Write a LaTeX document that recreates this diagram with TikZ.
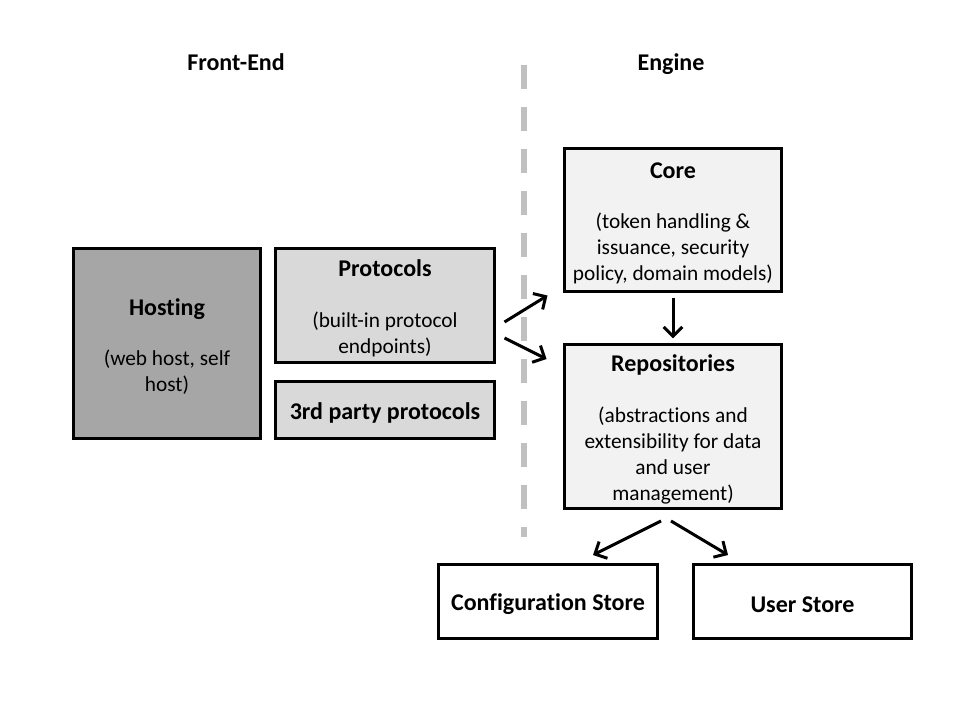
\documentclass[tikz,border=0pt]{standalone}
\usepackage{fontspec}
\setmainfont{Carlito}[Ligatures={NoCommon}]
\usepackage{tikz}
\usetikzlibrary{arrows.meta, positioning, calc}
\definecolor{hostgray}{HTML}{A6A6A6}
\definecolor{protogray}{HTML}{D9D9D9}
\definecolor{enginegray}{HTML}{F2F2F2}
\definecolor{divgray}{HTML}{C0C0C0}
\newcommand{\boxtitle}[1]{{\fontsize{18pt}{22pt}\selectfont\bfseries\rule{0pt}{17pt}#1}}

\begin{document}
\begin{tikzpicture}[x=0.75pt, y=-0.75pt,
    box/.style={draw, line width=2.25pt, align=center, inner sep=0pt, font=\fontsize{16pt}{19.5pt}\selectfont},
    link/.style={line width=2.25pt, -{Straight Barb[length=7pt, width=14pt]}},
    heading/.style={anchor=base, font=\fontsize{18pt}{22pt}\selectfont\bfseries}]
    \useasboundingbox (0,0) rectangle (960,720);
    % Headings and divider
    \node[heading] (fe) at (236,70.5) {Front-End};
    \node[heading] (en) at (671,70.5) {Engine};
    \draw[divgray, line width=4.5pt, dash pattern=on 18pt off 13.5pt] (524,65) -- (524,537);

    % Front-end boxes
    \node[box, fill=hostgray, minimum width=140.25pt, minimum height=142.5pt] (host) at (167,343.5) {\boxtitle{Hosting}\\[18.5pt](web host, self\\host)};
    \node[box, fill=protogray, minimum width=164.25pt, minimum height=85.5pt] (proto) at (385,305.5) {\boxtitle{Protocols}\\[18.5pt](built-in protocol\\endpoints)};
    \node[box, fill=protogray, minimum width=164.25pt, minimum height=42.75pt] (third) at (385,410) {\boxtitle{3rd party protocols}};

    % Engine boxes
    \node[box, fill=enginegray, minimum width=162.75pt, minimum height=107.25pt] (core) at (673,220) {\boxtitle{Core}\\[18.5pt](token handling \&\\issuance, security\\policy, domain models)};
    \node[box, fill=enginegray, minimum width=162.75pt, minimum height=123pt] (repo) at (673,426.5) {\boxtitle{Repositories}\\[18.5pt](abstractions and\\extensibility for data\\and user\\management)};
    \node[box, minimum width=164.25pt, minimum height=55.5pt] (conf) at (548,601.5) {\boxtitle{Configuration Store}};
    \node[box, minimum width=163.5pt, minimum height=55.5pt] (user) at (802.5,601.5) {\boxtitle{User Store}};

    % Arrows
    \draw[link] ([shift={(8.5,16.5)}]proto.east) -- ([shift={(-15.5,2.5)}]core.south west);
    \draw[link] ([shift={(8.5,32.5)}]proto.east) -- ([shift={(-16.5,16)}]repo.north west);
    \draw[link] ([yshift=-4pt]core.south) -- ([yshift=3.5pt]repo.north);
    \draw[link] ([shift={(-12,11)}]repo.south) -- ([shift={(45,-8)}]conf.north);
    \draw[link] ([shift={(-2,11)}]repo.south) -- ([shift={(-74.5,-8)}]user.north);
\end{tikzpicture}
\end{document}
